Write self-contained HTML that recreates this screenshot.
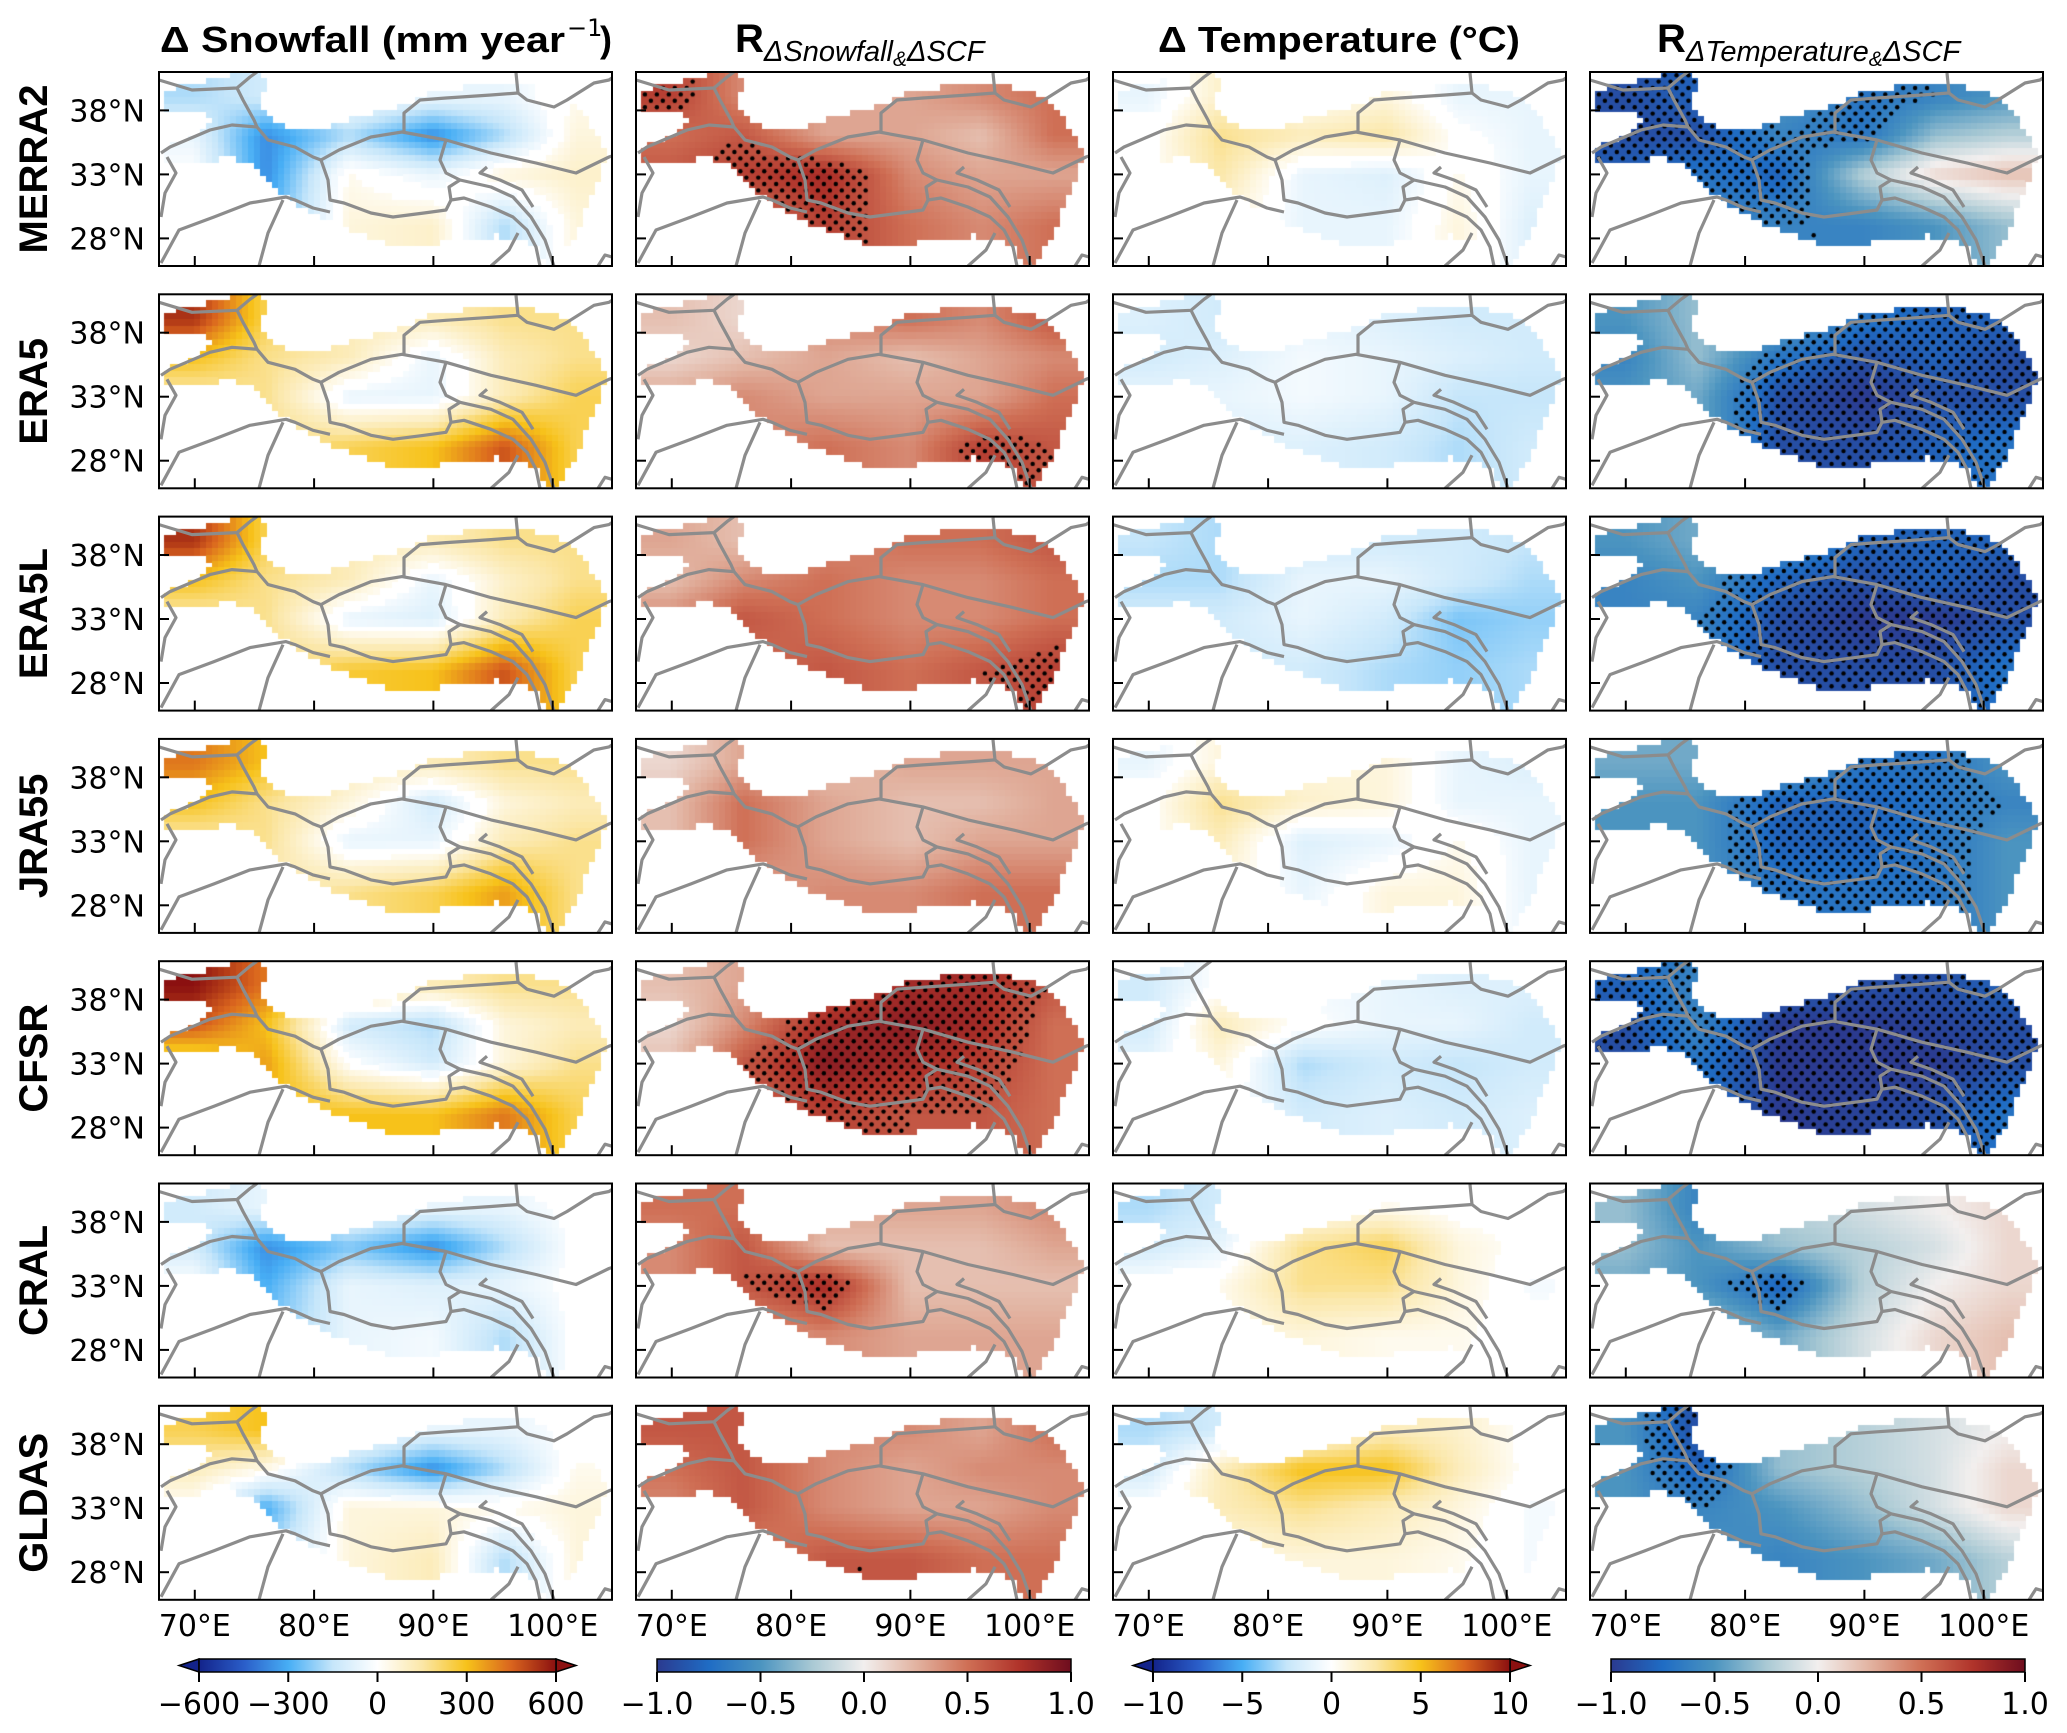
<!DOCTYPE html>
<html><head><meta charset="utf-8">
<style>
html,body{margin:0;padding:0;background:#fff;}
#wrap{position:relative;width:2067px;height:1733px;overflow:hidden;background:#fff;}
#cv{position:absolute;left:0;top:0;}
#ov{position:absolute;left:0;top:0;}
</style></head>
<body>
<div id="wrap">
<canvas id="cv" width="2067" height="1733"></canvas>
<svg id="ov" width="2067" height="1733" xmlns="http://www.w3.org/2000/svg">
<defs>
<linearGradient id="gDiv1" x1="0" x2="1" y1="0" y2="0">
<stop offset="0" stop-color="#13238a"/><stop offset="0.125" stop-color="#2a5dc8"/><stop offset="0.25" stop-color="#47aef5"/><stop offset="0.375" stop-color="#c6e6fa"/><stop offset="0.5" stop-color="#ffffff"/><stop offset="0.625" stop-color="#fbe7a8"/><stop offset="0.75" stop-color="#f7c21a"/><stop offset="0.875" stop-color="#d9641e"/><stop offset="1" stop-color="#8b1010"/>
</linearGradient>
<linearGradient id="gDiv2" x1="0" x2="1" y1="0" y2="0">
<stop offset="0" stop-color="#2b3a8f"/><stop offset="0.125" stop-color="#1f6cc4"/><stop offset="0.25" stop-color="#4b94c0"/><stop offset="0.375" stop-color="#a9c9d4"/><stop offset="0.5" stop-color="#f2efee"/><stop offset="0.625" stop-color="#e2b3a1"/><stop offset="0.75" stop-color="#cf6f55"/><stop offset="0.875" stop-color="#b0332a"/><stop offset="1" stop-color="#6e0d1e"/>
</linearGradient>
</defs>
<g id="titles" font-family="'Liberation Sans', sans-serif">
<text x="160" y="52" font-size="36" font-weight="bold" textLength="405" lengthAdjust="spacingAndGlyphs">Δ Snowfall (mm year</text>
<text x="567" y="36" font-size="24" font-family="'DejaVu Sans', sans-serif">−1</text>
<text x="600" y="52" font-size="36" font-weight="bold">)</text>
<text x="735" y="52" font-size="40" font-weight="bold">R<tspan font-weight="normal" font-size="29" font-style="italic" dy="9">ΔSnowfall</tspan><tspan font-weight="normal" font-size="21" font-style="italic" dy="5">&amp;</tspan><tspan font-weight="normal" font-size="29" font-style="italic" dy="-5">ΔSCF</tspan></text>
<text x="1158" y="52" font-size="36" font-weight="bold" textLength="362" lengthAdjust="spacingAndGlyphs">Δ Temperature (°C)</text>
<text x="1657" y="52" font-size="40" font-weight="bold">R<tspan font-weight="normal" font-size="29" font-style="italic" dy="9">ΔTemperature</tspan><tspan font-weight="normal" font-size="21" font-style="italic" dy="5">&amp;</tspan><tspan font-weight="normal" font-size="29" font-style="italic" dy="-5">ΔSCF</tspan></text>
</g>
<g id="panels"></g>
<g id="cbars"></g>
</svg>
</div>
<script>
// ---- data: 4 lat bands x 6 lon bands per panel (normalized -1..1) ----
const gridLat = [39, 36, 33, 29];
const gridLon = [70, 76, 83, 90, 96, 102];
const datasets = ['MERRA2','ERA5','ERA5L','JRA55','CFSR','CRAL','GLDAS'];
const snowTicks = ['−600','−300','0','300','600'];
const corrTicks = ['−1.0','−0.5','0.0','0.5','1.0'];
const tempTicks = ['−10','−5','0','5','10'];
const latTicks = [38, 33, 28];
const lonTicks = [70, 80, 90, 100];

const snow_MERRA2 = [[-0.3,-0.2,0,-0.1,-0.1,0.05],[-0.1,-0.6,-0.3,-0.6,-0.3,0.1],[0,-0.6,0.05,-0.1,0.1,0.15],[0,-0.5,0.1,0.15,-0.3,0.1]];
const rsnow_MERRA2 = [[0.7,0.4,0.3,0.3,0.4,0.5],[0.5,0.6,0.3,0.3,0.2,0.5],[0.6,0.7,0.8,0.4,0.3,0.3],[0.3,0.4,0.7,0.5,0.4,0.5]];
const temp_MERRA2 = [[-0.1,0.15,0,0.1,-0.1,-0.1],[0,0.3,0.2,0.25,0,-0.1],[0,0.25,-0.1,-0.15,0.05,-0.1],[0,0.1,-0.1,-0.1,0.1,-0.15]];
const rtemp_MERRA2 = [[-0.9,-0.8,-0.5,-0.7,-0.6,-0.5],[-0.9,-0.9,-0.6,-0.7,-0.3,-0.2],[-0.8,-0.7,-0.8,-0.2,0.1,0.2],[-0.5,-0.6,-0.6,-0.6,-0.5,-0.3]];

const snow_ERA5 = [[0.9,0.4,0.2,0.2,0.3,0.3],[0.5,0.3,0.2,-0.1,0.2,0.3],[0.2,0.3,-0.1,-0.1,0.2,0.4],[0.1,0.3,0.4,0.5,0.8,0.4]];
const rsnow_ERA5 = [[0.2,0.1,0.4,0.5,0.4,0.6],[0.1,0.2,0.3,0.2,0.3,0.4],[0.3,0.4,0.3,0.3,0.3,0.5],[0.3,0.4,0.5,0.4,0.7,0.6]];
const temp_ERA5 = [[-0.15,-0.2,-0.1,-0.15,-0.2,-0.2],[-0.2,-0.15,-0.05,-0.1,-0.15,-0.2],[-0.1,-0.1,-0.05,-0.1,-0.25,-0.25],[-0.1,-0.15,-0.15,-0.2,-0.3,-0.2]];
const rtemp_ERA5 = [[-0.5,-0.3,-0.4,-0.7,-0.8,-0.8],[-0.6,-0.3,-0.7,-0.9,-0.8,-0.9],[-0.5,-0.4,-0.9,-1,-0.9,-0.9],[-0.3,-0.4,-0.9,-0.9,-0.8,-0.7]];

const snow_ERA5L = [[0.9,0.4,0.2,0.2,0.3,0.3],[0.5,0.3,0.2,-0.1,0.15,0.3],[0.2,0.3,-0.1,-0.15,0.2,0.4],[0.1,0.3,0.45,0.5,0.8,0.4]];
const rsnow_ERA5L = [[0.3,0.2,0.4,0.5,0.5,0.6],[0.2,0.4,0.5,0.4,0.4,0.5],[0.4,0.6,0.5,0.4,0.4,0.5],[0.3,0.5,0.6,0.5,0.6,0.7]];
const temp_ERA5L = [[-0.25,-0.3,-0.2,-0.2,-0.2,-0.25],[-0.3,-0.3,-0.1,-0.1,-0.2,-0.3],[-0.2,-0.2,-0.1,-0.2,-0.4,-0.35],[-0.1,-0.2,-0.2,-0.3,-0.35,-0.3]];
const rtemp_ERA5L = [[-0.5,-0.4,-0.5,-0.8,-0.8,-0.8],[-0.6,-0.5,-0.8,-0.9,-0.8,-0.9],[-0.6,-0.6,-0.9,-1,-1,-0.9],[-0.4,-0.6,-0.9,-0.9,-0.9,-0.7]];

const snow_JRA55 = [[0.7,0.5,0.2,0.2,0.3,0.3],[0.5,0.3,0.1,-0.2,0.1,0.2],[0.2,0.3,-0.1,-0.1,0.2,0.3],[0.1,0.2,0.3,0.4,0.6,0.3]];
const rsnow_JRA55 = [[0.1,0.3,0.2,0.3,0.3,0.3],[0.2,0.5,0.3,0.2,0.2,0.3],[0.2,0.5,0.3,0.2,0.3,0.3],[0.2,0.3,0.4,0.4,0.5,0.5]];
const temp_JRA55 = [[-0.1,0.1,0.1,0.1,-0.1,-0.15],[0,0.3,0.15,0.1,-0.1,-0.1],[0,0.2,-0.15,-0.1,0.05,-0.1],[0,0.1,-0.1,0.1,0.1,-0.1]];
const rtemp_JRA55 = [[-0.4,-0.4,-0.4,-0.7,-0.7,-0.5],[-0.5,-0.5,-0.8,-0.8,-0.7,-0.6],[-0.5,-0.5,-0.8,-0.8,-0.7,-0.5],[-0.3,-0.5,-0.7,-0.7,-0.7,-0.5]];

const snow_CFSR = [[1,0.7,0.3,0.2,0.3,0.3],[0.8,0.5,-0.2,-0.3,0.1,0.2],[0.3,0.6,0,-0.2,0.1,0.3],[0.1,0.5,0.5,0.5,0.7,0.4]];
const rsnow_CFSR = [[0.2,0.3,0.6,0.8,0.8,0.6],[0.1,0.4,0.8,0.9,0.8,0.5],[0.2,0.6,0.9,0.8,0.7,0.5],[0.2,0.5,0.7,0.6,0.6,0.5]];
const temp_CFSR = [[-0.2,0,-0.05,-0.1,-0.15,-0.15],[-0.2,0.2,0,-0.1,-0.1,-0.2],[-0.1,0.1,-0.3,-0.2,-0.25,-0.2],[0,0,-0.2,-0.15,-0.2,-0.15]];
const rtemp_CFSR = [[-0.8,-0.6,-0.8,-0.9,-0.9,-0.8],[-0.9,-0.6,-1,-1,-0.95,-0.9],[-0.9,-0.7,-1,-1,-1,-0.9],[-0.5,-0.7,-1,-0.95,-0.9,-0.7]];

const snow_CRAL = [[-0.2,-0.1,0,-0.1,-0.1,0],[-0.2,-0.6,-0.4,-0.6,-0.3,0],[0,-0.5,-0.1,-0.15,-0.1,0],[0,-0.4,-0.1,-0.05,-0.3,0]];
const rsnow_CRAL = [[0.5,0.5,0.3,0.3,0.3,0.4],[0.4,0.6,0.2,0.2,0.2,0.3],[0.4,0.6,0.8,0.2,0.2,0.2],[0.2,0.3,0.4,0.3,0.3,0.3]];
const temp_CRAL = [[-0.3,-0.2,0,0.05,0,0],[-0.2,-0.1,0.3,0.4,0.1,0],[0,0.05,0.3,0.3,0.1,-0.05],[0,0.05,0.1,0.05,0.05,0]];
const rtemp_CRAL = [[-0.3,-0.6,-0.2,-0.1,0,0.1],[-0.3,-0.5,-0.3,-0.2,-0.1,0.1],[-0.4,-0.5,-0.8,-0.2,0,0.1],[-0.2,-0.2,-0.4,-0.1,0.1,0.2]];

const snow_GLDAS = [[0.4,0.5,0,-0.1,-0.1,0],[0.2,0.05,-0.3,-0.6,-0.3,0.05],[0,-0.5,0.1,0.1,0.05,0.1],[0,-0.3,0.1,0.2,-0.3,0.1]];
const rsnow_GLDAS = [[0.6,0.6,0.4,0.4,0.3,0.5],[0.5,0.6,0.4,0.3,0.4,0.4],[0.4,0.6,0.4,0.3,0.3,0.4],[0.2,0.4,0.6,0.6,0.5,0.5]];
const temp_GLDAS = [[-0.3,-0.2,0,0.2,0.15,0],[-0.2,0.2,0.5,0.5,0.2,0],[0,0.2,0.3,0.2,0.1,-0.05],[0,0.05,0.1,0.1,0.05,-0.05]];
const rtemp_GLDAS = [[-0.5,-0.9,-0.3,-0.2,-0.1,0],[-0.5,-0.8,-0.3,-0.2,-0.1,0.1],[-0.5,-0.6,-0.5,-0.3,-0.1,0.1],[-0.2,-0.5,-0.6,-0.5,-0.4,-0.2]];

const panelData = [
 [snow_MERRA2, rsnow_MERRA2, temp_MERRA2, rtemp_MERRA2],
 [snow_ERA5, rsnow_ERA5, temp_ERA5, rtemp_ERA5],
 [snow_ERA5L, rsnow_ERA5L, temp_ERA5L, rtemp_ERA5L],
 [snow_JRA55, rsnow_JRA55, temp_JRA55, rtemp_JRA55],
 [snow_CFSR, rsnow_CFSR, temp_CFSR, rtemp_CFSR],
 [snow_CRAL, rsnow_CRAL, temp_CRAL, rtemp_CRAL],
 [snow_GLDAS, rsnow_GLDAS, temp_GLDAS, rtemp_GLDAS]
];

// ---- layout ----
const PX0 = 159, PPITCH = 477, PW = 453, PY0 = 72, RPITCH = 222.3, PH = 194;
const LON0 = 67, LAT0 = 41, SX = 11.93, SY = 12.8;
const xOf = (lon) => (lon - LON0) * SX;
const yOf = (lat) => (LAT0 - lat) * SY;

const cmap1 = ['#13238a','#2a5dc8','#47aef5','#c6e6fa','#ffffff','#fbe7a8','#f7c21a','#d9641e','#8b1010'];
const cmap2 = ['#2b3a8f','#1f6cc4','#4b94c0','#a9c9d4','#f2efee','#e2b3a1','#cf6f55','#b0332a','#6e0d1e'];
function hex(h){return [parseInt(h.substr(1,2),16),parseInt(h.substr(3,2),16),parseInt(h.substr(5,2),16)];}
function colorOf(cm, v){
  v = Math.max(-1, Math.min(1, v));
  const t = (v + 1) / 2 * (cm.length - 1);
  const i = Math.min(cm.length - 2, Math.floor(t)), f = t - i;
  const a = hex(cm[i]), b = hex(cm[i+1]);
  return 'rgb(' + a.map((c,k)=>Math.round(c + (b[k]-c)*f)).join(',') + ')';
}
function interp(grid, lon, lat){
  function pos(arr, v, desc){
    for (let i = 0; i < arr.length - 1; i++){
      const a = arr[i], b = arr[i+1];
      const inside = desc ? (v <= a && v >= b) : (v >= a && v <= b);
      if (inside) return [i, (v - a) / (b - a)];
    }
    if (desc) return v > arr[0] ? [0,0] : [arr.length-2,1];
    return v < arr[0] ? [0,0] : [arr.length-2,1];
  }
  const [i, fi] = pos(gridLat, lat, true);
  const [j, fj] = pos(gridLon, lon, false);
  const v00 = grid[i][j], v01 = grid[i][j+1], v10 = grid[i+1][j], v11 = grid[i+1][j+1];
  return (v00*(1-fj) + v01*fj)*(1-fi) + (v10*(1-fj) + v11*fj)*fi;
}
const maskPoly = [[67.5,39.5],[70,40],[72,40.5],[74,41],[75.5,41],[76,40],[75.5,38.5],[76,37.5],[78,36.5],[80,36.3],[82,37],[84,37.5],[86,38],[88,38.5],[90,39.5],[92,39.7],[94,40],[96,40],[98,39.8],[100,39.5],[101.5,39],[102.5,38],[103,37],[104,36],[104.5,34.5],[104,33],[103,31],[102.5,29.5],[102,28],[101,27],[100.5,26],[99.5,26],[99,27.5],[97,28],[95,28.3],[93,27.8],[91,27.8],[89,27.5],[87,27.5],[85,28],[83,28.8],[81,29.5],[79,30.5],[77.5,31.5],[76,33],[74.5,34],[73,34.5],[71,34],[69,33.8],[67.3,34],[67.3,35],[69,35.5],[71,36.5],[72,37.5],[70,38],[67.5,38]];
function inPoly(x, y){
  let c = false;
  for (let i = 0, j = maskPoly.length - 1; i < maskPoly.length; j = i++){
    const [xi, yi] = maskPoly[i], [xj, yj] = maskPoly[j];
    if (((yi > y) !== (yj > y)) && (x < (xj - xi) * (y - yi) / (yj - yi) + xi)) c = !c;
  }
  return c;
}
const borderLines = [
 [[0,8],[33,18],[78,16],[91,5],[98,0]],
 [[78,16],[84,28],[95,48],[98,55]],
 [[2,81],[11,75],[51,58],[73,53],[98,55],[109,68],[136,75],[154,85],[162,88],[180,78],[212,65],[243,60],[287,68],[332,81],[377,91],[417,101],[450,85],[453,84]],
 [[245,60],[245,41],[261,28],[287,26],[332,23],[359,21],[368,28],[395,35],[408,28],[435,11],[450,8],[453,6]],
 [[359,21],[357,1]],
 [[162,88],[169,108],[171,128],[185,131],[212,141],[234,145],[265,141],[287,138],[292,128],[305,126],[332,135],[354,145],[368,158],[377,175],[381,194]],
 [[287,68],[281,88],[287,101],[301,108],[290,115],[292,128]],
 [[301,108],[332,115],[354,125],[372,145],[386,168],[395,194]],
 [[328,95],[321,101],[341,108],[363,118],[374,135]],
 [[2,191],[20,158],[55,145],[91,131],[127,125],[136,128],[154,136],[171,140]],
 [[124,128],[109,161],[100,194]],
 [[8,85],[17,101],[6,121],[2,145]],
 [[332,194],[350,178],[359,161]],
 [[439,194],[446,183],[453,185]]
];

const cv = document.getElementById('cv');
const ctx = cv.getContext('2d');
const NS = 'http://www.w3.org/2000/svg';
const gP = document.getElementById('panels');
function mk(tag, attrs, parent){
  const e = document.createElementNS(NS, tag);
  for (const k in attrs) e.setAttribute(k, attrs[k]);
  parent.appendChild(e);
  return e;
}
const colNames = ['snowfall','r-snowfall-scf','temperature','r-temperature-scf'];

for (let r = 0; r < 7; r++){
  const top = PY0 + r * RPITCH;
  for (let c = 0; c < 4; c++){
    const left = PX0 + c * PPITCH;
    const grid = panelData[r][c];
    const cm = (c % 2 === 0) ? cmap1 : cmap2;
    ctx.save();
    ctx.beginPath(); ctx.rect(left, top, PW, PH); ctx.clip();
    let ii = 0;
    for (let lon = 67; lon < 105; lon += 0.5){
      let jj = 0;
      for (let lat = 41; lat > 26; lat -= 0.5){
        const cx = lon + 0.25, cy = lat - 0.25;
        if (inPoly(cx, cy)){
          const v = interp(grid, cx, cy);
          if (!(c % 2 === 0 && Math.abs(v) < 0.04)){
            ctx.fillStyle = colorOf(cm, v);
            const x0 = left + xOf(lon), y0 = top + yOf(lat);
            ctx.fillRect(Math.floor(x0), Math.floor(y0), Math.ceil(0.5*SX)+1, Math.ceil(0.5*SY)+1);
            if (c % 2 === 1 && Math.abs(v) > 0.6 && (ii + jj) % 2 === 0){
              ctx.fillStyle = '#000';
              ctx.beginPath();
              ctx.arc(x0 + 0.25*SX, y0 + 0.25*SY, 2.2, 0, 6.283);
              ctx.fill();
            }
          }
        }
        jj++;
      }
      ii++;
    }
    ctx.restore();

    const g = mk('g', {transform: 'translate(' + left + ',' + top + ')'}, gP);
    
    
    const clipId = 'cl' + r + '_' + c;
    const cp = mk('clipPath', {id: clipId}, g);
    mk('rect', {x:0, y:0, width:PW, height:PH}, cp);
    const lg = mk('g', {'clip-path': 'url(#' + clipId + ')', fill:'none', stroke:'#8c8c8c', 'stroke-width':'3.2', 'stroke-linejoin':'round'}, g);
    
    
    borderLines.forEach(pl => {
      mk('polyline', {points: pl.map(p => p.join(',')).join(' ')}, lg);
    });
    const fr = mk('rect', {x:0, y:0, width:PW, height:PH, fill:'none', stroke:'#000', 'stroke-width':'2'}, g);
    
    
    latTicks.forEach(lt => {
      const y = yOf(lt);
      mk('line', {x1:0, x2:10, y1:y, y2:y, stroke:'#000', 'stroke-width':'2'}, g);
      if (c === 0){
        const t = mk('text', {x:-14, y:y+11, 'text-anchor':'end', 'font-size':'30', 'font-family':"'DejaVu Sans', sans-serif"}, g);
        t.textContent = lt + '°N';
        
        
      }
    });
    lonTicks.forEach(ln => {
      const x = xOf(ln);
      mk('line', {x1:x, x2:x, y1:PH, y2:PH-10, stroke:'#000', 'stroke-width':'2'}, g);
      if (r === 6){
        const t = mk('text', {x:x, y:PH+36, 'text-anchor':'middle', 'font-size':'30', 'font-family':"'DejaVu Sans', sans-serif"}, g);
        t.textContent = ln + '°E';
        
        
      }
    });
  }
  const lab = mk('text', {x:0, y:0, transform:'translate(47,' + (top + PH/2) + ') rotate(-90)', 'text-anchor':'middle', 'font-size':'40', 'font-weight':'bold', 'font-family':"'Liberation Sans', sans-serif"}, gP);
  lab.textContent = datasets[r];
  
  
}

const gC = document.getElementById('cbars');
const cbTicks = [snowTicks, corrTicks, tempTicks, corrTicks];
for (let c = 0; c < 4; c++){
  const left = PX0 + c * PPITCH;
  const ext = (c % 2 === 0);
  const x0 = left + (ext ? 40 : 21), x1 = left + (ext ? 397 : 435);
  const y0 = 1659, y1 = 1672;
  const g = mk('g', {}, gC);
  
  
  const grad = ext ? 'url(#gDiv1)' : 'url(#gDiv2)';
  if (ext){
    mk('polygon', {points: x0 + ',' + y0 + ' ' + (x0-20) + ',' + ((y0+y1)/2) + ' ' + x0 + ',' + y1, fill:'#13238a', stroke:'#000', 'stroke-width':'1.5'}, g);
    mk('polygon', {points: x1 + ',' + y0 + ' ' + (x1+20) + ',' + ((y0+y1)/2) + ' ' + x1 + ',' + y1, fill:'#8b1010', stroke:'#000', 'stroke-width':'1.5'}, g);
  }
  mk('rect', {x:x0, y:y0, width:x1-x0, height:y1-y0, fill:grad, stroke:'#000', 'stroke-width':'1.5'}, g);
  const labels = cbTicks[c];
  labels.forEach((lbl, k) => {
    const x = x0 + (x1 - x0) * k / (labels.length - 1);
    mk('line', {x1:x, x2:x, y1:y1, y2:y1+10, stroke:'#000', 'stroke-width':'2'}, g);
    const t = mk('text', {x:x, y:1714, 'text-anchor':'middle', 'font-size':'30', 'font-family':"'DejaVu Sans', sans-serif"}, g);
    t.textContent = lbl;
    
    
  });
}
</script>
</body></html>
